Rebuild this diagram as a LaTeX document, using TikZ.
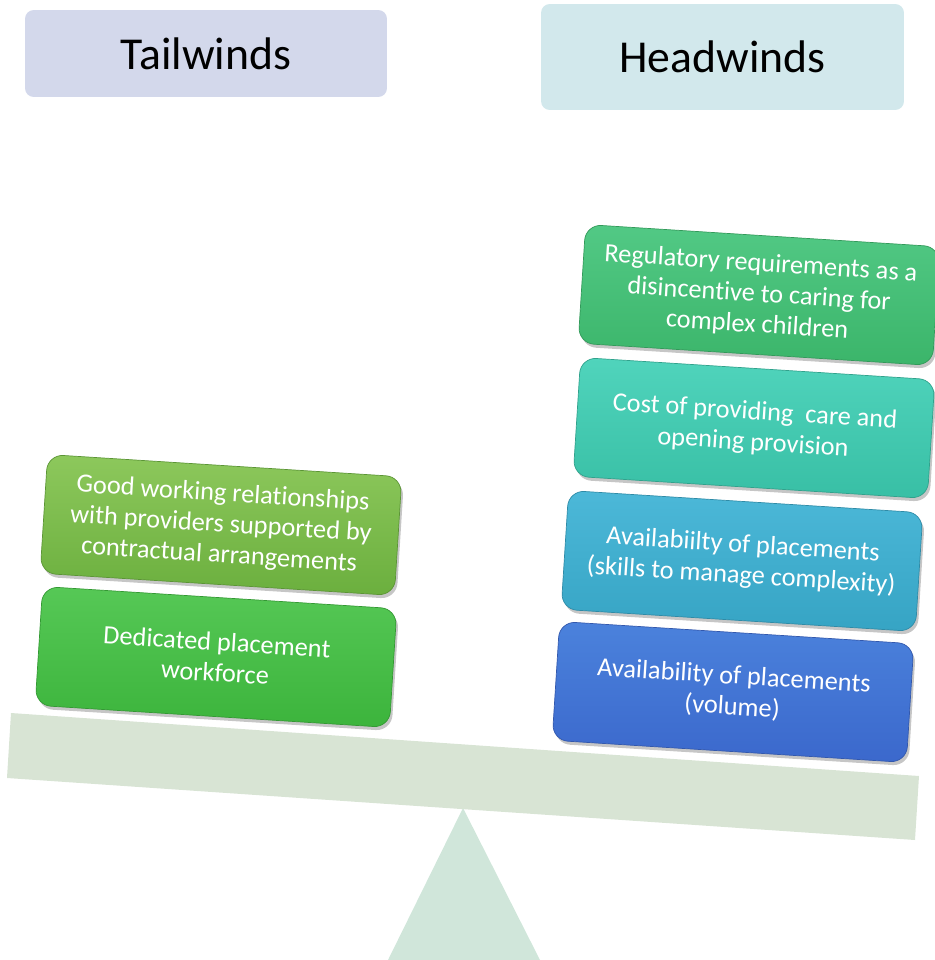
\documentclass[tikz,border=0pt]{standalone}
\usepackage{fontspec}
\setmainfont{Carlito}[Ligatures=NoCommon]
\usepackage{xcolor}
\usetikzlibrary{shadows}

\definecolor{tailbg}{HTML}{D3D8EB}
\definecolor{headbg}{HTML}{D2E8EC}
\definecolor{beamcol}{HTML}{D8E4D4}
\definecolor{pivotcol}{HTML}{D0E6DA}
\definecolor{oliveTop}{HTML}{8DC85C}
\definecolor{oliveBot}{HTML}{6BAF3E}
\definecolor{greenTop}{HTML}{56C856}
\definecolor{greenBot}{HTML}{3CB43C}
\definecolor{mintTop}{HTML}{52C985}
\definecolor{mintBot}{HTML}{3BB56A}
\definecolor{tealTop}{HTML}{50D4BC}
\definecolor{tealBot}{HTML}{38BFA5}
\definecolor{skyTop}{HTML}{4CB8D8}
\definecolor{skyBot}{HTML}{36A4C4}
\definecolor{blueTop}{HTML}{4B82DC}
\definecolor{blueBot}{HTML}{3B68CC}

\begin{document}
\begin{tikzpicture}[x=0.02cm,y=-0.02cm,
  header/.style={fill=#1,rounded corners=5pt,font=\fontsize{26}{30}\selectfont,text=black},
  factor/.style={rounded corners=9pt,top color=#1Top,bottom color=#1Bot,draw=#1Bot!85!black,thin,
    minimum width=7.1cm,minimum height=2.38cm,align=center,text=white,rotate=-3.6,
    font=\fontsize{15}{17.5}\selectfont,
    drop shadow={shadow xshift=1.2pt,shadow yshift=-2pt,opacity=.45}}]
\useasboundingbox (0,0) rectangle (935,960);
  % headings
  \node[header=tailbg,minimum width=7.24cm,minimum height=1.74cm] (tail) at (206,53.5) {Tailwinds};
  \node[header=headbg,minimum width=7.26cm,minimum height=2.12cm] (head) at (722.5,57) {Headwinds};
  % pivot and beam
  \fill[pivotcol] (463,808) -- (540,960) -- (388,960) -- cycle;
  \fill[beamcol] (11,713) -- (919,776) -- (915,840) -- (7,778) -- cycle;
  % tailwinds
  \node[factor=olive] (relations) at (221,525)
    {Good working relationships\\with providers supported by\\contractual arrangements};
  \node[factor=green] (workforce) at (216,657)
    {Dedicated placement\\workforce};
  % headwinds
  \node[factor=mint] (regulation) at (759,295)
    {Regulatory requirements as a\\disincentive to caring for\\complex children};
  \node[factor=teal] (cost) at (754,428)
    {Cost of providing\ \ care and\\opening provision};
  \node[factor=sky] (skills) at (742,561)
    {Availabiilty of placements\\(skills to manage complexity)};
  \node[factor=blue] (volume) at (733,692)
    {Availability of placements\\(volume)};
\end{tikzpicture}
\end{document}
